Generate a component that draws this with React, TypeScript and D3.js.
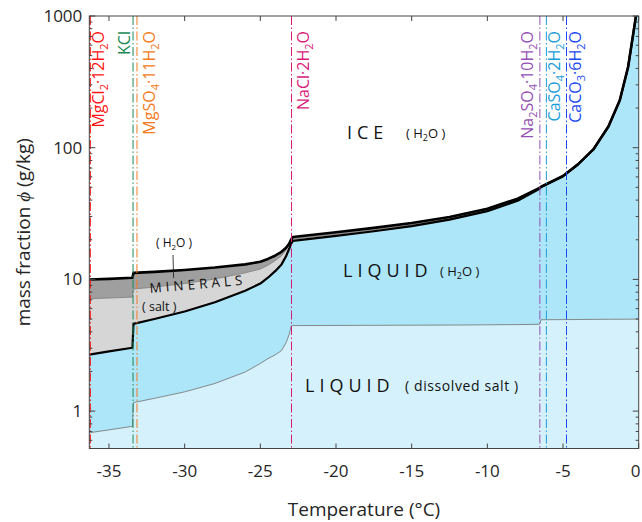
import React from 'react';
import * as d3 from 'd3';

// temperature samples (°C) and the stacked mass fractions (g/kg)
const temperature = [-36.3, -35, -33.45, -33.38, -32, -30, -28, -26, -25, -24.5, -24, -23.6, -23.3, -23.1, -22.95,
  -22.85, -20, -17.5, -15, -12.5, -10, -8, -6.55, -6.45, -5, -4, -3, -2, -1.25, -0.7, -0.36, -0.18, 0];
const dissolvedSalt = [0.685, 0.72, 0.766, 1.16, 1.25, 1.4, 1.62, 1.98, 2.3, 2.5, 2.68, 2.88, 3.3, 3.8, 4.45,
  4.46, 4.47, 4.48, 4.49, 4.5, 4.52, 4.54, 4.56, 4.94, 4.95, 4.96, 4.97, 4.98, 4.98, 4.99, 4.99, 5.0, 5.0];
const liquidWater = [2.0, 2.12, 2.26, 3.44, 3.75, 4.3, 5.08, 6.22, 7.0, 7.8, 8.92, 10.12, 11.7, 13.2, 14.35,
  15.14, 16.93, 18.72, 20.91, 23.9, 28.48, 35.06, 44.14, 45.31, 55.8, 69.8, 91.8, 140, 224, 405, 729, 995, 3995];
const mineralSalt = [4.44, 4.38, 4.31, 3.84, 3.75, 3.6, 3.38, 3.02, 2.7, 2.5, 2.32, 2.12, 1.7, 1.2, 0.6,
  0.6, 0.6, 0.6, 0.6, 0.6, 0.6, 0.6, 0.35, 0.1, 0.1, 0.1, 0.1, 0.05, 0.05, 0.05, 0.05, 0.05, 0.05];
const mineralWater = [2.87, 2.88, 2.96, 2.76, 2.65, 2.5, 2.22, 1.78, 1.6, 1.5, 1.28, 1.08, 0.7, 0.4, 0.8,
  0.8, 0.8, 0.8, 0.8, 0.8, 0.8, 0.8, 0.45, 0.15, 0.15, 0.15, 0.15, 0.05, 0.05, 0.05, 0.05, 0.05, 0.05];

const layerKeys = ['dissolvedSalt', 'liquidWater', 'mineralSalt', 'mineralWater'];
const layerColors = ['#d5f2fc', '#ace6f8', '#d6d6d6', '#9f9f9f'];

// eutectic / precipitation temperatures of the minerals
const mineralNames = ['MgCl2·12H2O', 'KCl', 'MgSO4·11H2O', 'NaCl·2H2O', 'Na2SO4·10H2O', 'CaSO4·2H2O', 'CaCO3·6H2O'];
const mineralTemps = [-36.25, -33.41, -33.15, -22.94, -6.53, -6.1, -4.77];
const mineralColors = ['#ff1414', '#1b8a55', '#f47a20', '#d81b7b', '#9450b4', '#1c9dd9', '#1a48f2'];
const labelOffsets = [14, -3, 18, 17, -7, 14, 14];

const xTicks = [-35, -30, -25, -20, -15, -10, -5, 0];
const yTicks = [1, 10, 100, 1000];

const width = 642;
const height = 522;
const plot = { left: 89.3, right: 638.7, top: 16, bottom: 448.5 };
const yMin = 0.52;
const font = "'Open Sans', sans-serif";
const ink = '#262626';

// digits right after a letter are subscripts
function formula(name: string, subSize: number) {
  const parts: { s: string; sub: boolean }[] = [];
  let prevSub = false;
  for (let i = 0; i < name.length; i++) {
    const c = name[i];
    const isDigit = /[0-9]/.test(c);
    const prev = i > 0 ? name[i - 1] : '';
    const sub = isDigit && (/[A-Za-z]/.test(prev) || (prevSub && /[0-9]/.test(prev)));
    const last = parts[parts.length - 1];
    if (last && last.sub === sub) last.s += c;
    else parts.push({ s: c, sub });
    prevSub = sub;
  }
  return parts.map((p, i) =>
    p.sub
      ? <tspan key={i} fontSize={subSize} dy={4}>{p.s}</tspan>
      : <tspan key={i} dy={i > 0 && parts[i - 1].sub ? -4 : 0}>{p.s}</tspan>
  );
}

export default function App() {
  const x = d3.scaleLinear().domain([-36.3, 0]).range([plot.left, plot.right]);
  const y = d3.scaleLog().domain([yMin, 1000]).range([plot.bottom, plot.top]);

  const rows = temperature.map((t, i) => ({
    t,
    dissolvedSalt: dissolvedSalt[i],
    liquidWater: liquidWater[i],
    mineralSalt: mineralSalt[i],
    mineralWater: mineralWater[i],
  }));
  const series = d3.stack<any>().keys(layerKeys)(rows);

  const area = d3.area<any>()
    .x(d => x(d.data.t))
    .y0(d => y(Math.max(d[0], yMin)))
    .y1(d => y(d[1]));
  const top = d3.line<any>()
    .x(d => x(d.data.t))
    .y(d => y(d[1]));

  const minorTicks: number[] = [];
  [0.1, 1, 10, 100].forEach(dec => {
    for (let k = 2; k <= 9; k++) {
      const v = dec * k;
      if (v >= yMin && v < 1000) minorTicks.push(v);
    }
  });

  return (
    <svg width={width} height={height} style={{ position: 'absolute', left: 0, top: 0, background: '#fff' }}
      fontFamily={font}>
      <defs>
        <clipPath id="plotClip">
          <rect x={plot.left} y={plot.top} width={plot.right - plot.left} height={plot.bottom - plot.top} />
        </clipPath>
      </defs>

      <g clipPath="url(#plotClip)">
        {series.map((s, i) => (
          <path key={layerKeys[i]} d={area(s) || ''} fill={layerColors[i]} stroke="none" />
        ))}
        <path d={top(series[0]) || ''} fill="none" stroke="#6f6f6f" strokeWidth={0.8} />
        <path d={top(series[2]) || ''} fill="none" stroke="#7a7a7a" strokeWidth={0.8} />
        <path d={top(series[1]) || ''} fill="none" stroke="#000" strokeWidth={2.2} strokeLinejoin="round" />
        <path d={top(series[3]) || ''} fill="none" stroke="#000" strokeWidth={2.6} strokeLinejoin="round" />

        {mineralTemps.map((t, i) => (
          <line key={mineralNames[i]} x1={x(t)} x2={x(t)} y1={plot.top} y2={plot.bottom}
            stroke={mineralColors[i]} strokeWidth={i === 0 ? 1.6 : 1} strokeDasharray="9,2.5,1.5,2.5" />
        ))}
      </g>

      {/* mineral labels */}
      {mineralTemps.map((t, i) => (
        <text key={'lab' + i} transform={`translate(${x(t) + labelOffsets[i]},${plot.top + 15}) rotate(-90)`}
          textAnchor="end" fontSize={16} fill={mineralColors[i]}>
          {formula(mineralNames[i], 11)}
        </text>
      ))}

      {/* region labels */}
      <text x={347} y={139} fontSize={18} letterSpacing={5} fill="#111">ICE</text>
      <text x={406} y={138} fontSize={13} fill="#111">( H<tspan fontSize={9} dy={3}>2</tspan><tspan dy={-3}>O )</tspan></text>
      <text x={343} y={277} fontSize={18} letterSpacing={5} fill="#111">LIQUID</text>
      <text x={440} y={276} fontSize={13} fill="#111">( H<tspan fontSize={9} dy={3}>2</tspan><tspan dy={-3}>O )</tspan></text>
      <text x={305} y={392} fontSize={18} letterSpacing={5} fill="#111">LIQUID</text>
      <text x={405} y={391} fontSize={14} letterSpacing={0.6} fill="#111">( dissolved salt )</text>
      <text transform="translate(150,293) rotate(-5)" fontSize={13.5} letterSpacing={4} fill="#111">MINERALS</text>
      <text x={156} y={247} fontSize={12} fill="#111">( H<tspan fontSize={8} dy={3}>2</tspan><tspan dy={-3}>O )</tspan></text>
      <line x1={173} y1={255} x2={173.6} y2={278} stroke="#111" strokeWidth={0.8} />
      <text x={142} y={311} fontSize={12.5} fill="#111">( salt )</text>

      {/* frame and ticks */}
      <rect x={plot.left} y={plot.top} width={plot.right - plot.left} height={plot.bottom - plot.top}
        fill="none" stroke="#444" strokeWidth={1} />
      {xTicks.map(t => (
        <g key={'xt' + t}>
          <line x1={x(t)} x2={x(t)} y1={plot.bottom} y2={plot.bottom - 5} stroke="#444" />
          <line x1={x(t)} x2={x(t)} y1={plot.top} y2={plot.top + 5} stroke="#444" />
          <text x={Math.min(x(t), 635.5)} y={plot.bottom + 28} textAnchor="middle" fontSize={17} fill={ink}>{t}</text>
        </g>
      ))}
      {yTicks.map(v => (
        <g key={'yt' + v}>
          <line x1={plot.left} x2={plot.left + 6} y1={y(v)} y2={y(v)} stroke="#444" />
          <line x1={plot.right} x2={plot.right - 6} y1={y(v)} y2={y(v)} stroke="#444" />
          <text x={plot.left - 7} y={y(v) + 6} textAnchor="end" fontSize={17} fill={ink}>{v}</text>
        </g>
      ))}
      {minorTicks.map(v => (
        <g key={'ym' + v}>
          <line x1={plot.left} x2={plot.left + 3} y1={y(v)} y2={y(v)} stroke="#444" />
          <line x1={plot.right} x2={plot.right - 3} y1={y(v)} y2={y(v)} stroke="#444" />
        </g>
      ))}

      {/* axis titles */}
      <text x={(plot.left + plot.right) / 2} y={516} textAnchor="middle" fontSize={19} fill={ink}>Temperature (°C)</text>
      <text transform={`translate(30,${(plot.top + plot.bottom) / 2}) rotate(-90)`} textAnchor="middle"
        fontSize={19} fill={ink}>
        mass fraction <tspan fontFamily="'Liberation Serif', serif" fontStyle="italic">ϕ</tspan> (g/kg)
      </text>
    </svg>
  );
}
